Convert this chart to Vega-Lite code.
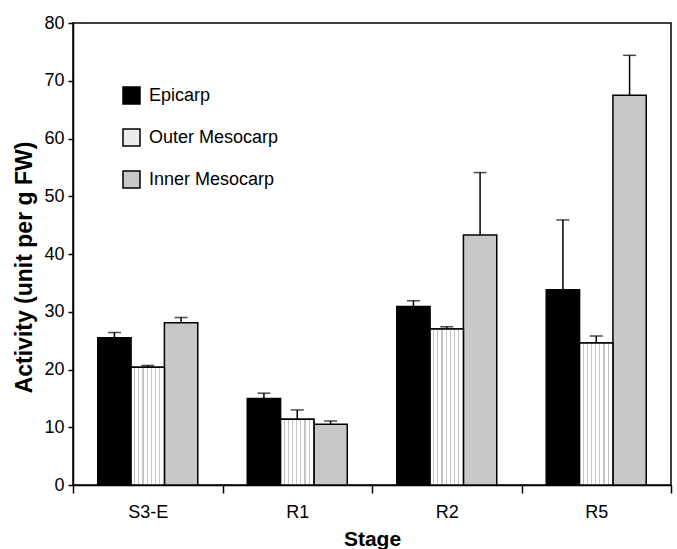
{
  "$schema": "https://vega.github.io/schema/vega-lite/v6.json",
  "width": 598,
  "height": 462,
  "autosize": {"type": "none"},
  "padding": {"left": 73, "top": 23, "right": 6, "bottom": 64},
  "background": "white",
  "config": {
    "view": {"stroke": "black", "strokeWidth": 1.5},
    "font": "Liberation Sans",
    "axis": {
      "domainColor": "black",
      "domainWidth": 1.5,
      "tickColor": "black",
      "tickWidth": 1.5,
      "labelColor": "black",
      "labelFont": "Liberation Sans",
      "labelFontSize": 18,
      "titleColor": "black",
      "titleFont": "Liberation Sans",
      "grid": false
    }
  },
  "data": {
    "values": [
      {"stage": "S3-E", "tissue": "Epicarp", "mean": 25.5, "upper": 26.4},
      {"stage": "S3-E", "tissue": "Outer Mesocarp", "mean": 20.4, "upper": 20.7},
      {"stage": "S3-E", "tissue": "Inner Mesocarp", "mean": 28.1, "upper": 29.0},
      {"stage": "R1", "tissue": "Epicarp", "mean": 15.0, "upper": 15.9},
      {"stage": "R1", "tissue": "Outer Mesocarp", "mean": 11.4, "upper": 13.0},
      {"stage": "R1", "tissue": "Inner Mesocarp", "mean": 10.5, "upper": 11.1},
      {"stage": "R2", "tissue": "Epicarp", "mean": 30.9, "upper": 31.9},
      {"stage": "R2", "tissue": "Outer Mesocarp", "mean": 27.0, "upper": 27.4},
      {"stage": "R2", "tissue": "Inner Mesocarp", "mean": 43.3, "upper": 54.1},
      {"stage": "R5", "tissue": "Epicarp", "mean": 33.8, "upper": 45.9},
      {"stage": "R5", "tissue": "Outer Mesocarp", "mean": 24.6, "upper": 25.8},
      {"stage": "R5", "tissue": "Inner Mesocarp", "mean": 67.5, "upper": 74.4}
    ]
  },
  "encoding": {
    "x": {
      "field": "stage",
      "type": "nominal",
      "sort": ["S3-E", "R1", "R2", "R5"],
      "scale": {"paddingInner": 0, "paddingOuter": 0},
      "axis": {
        "title": "Stage",
        "titleFontSize": 21,
        "titleFontWeight": "bold",
        "titleX": 299,
        "titleY": 60,
        "titleBaseline": "alphabetic",
        "titleAlign": "center",
        "tickSize": 8,
        "tickBand": "extent",
        "labelPadding": 10,
        "labelAngle": 0,
        "labelBaseline": "top"
      }
    },
    "xOffset": {
      "field": "tissue",
      "type": "nominal",
      "sort": ["Epicarp", "Outer Mesocarp", "Inner Mesocarp"],
      "scale": {"paddingInner": 0, "paddingOuter": 0.7425}
    }
  },
  "layer": [
    {
      "mark": {"type": "bar", "stroke": "black", "strokeWidth": 1.5},
      "encoding": {
        "y": {
          "field": "mean",
          "type": "quantitative",
          "scale": {"domain": [0, 80], "nice": false},
          "axis": {
            "title": "Activity (unit per g FW)",
            "titleFontSize": 23,
            "titleFontWeight": "bold",
            "titleX": -42,
            "titleY": 244,
            "titleBaseline": "alphabetic",
            "titleAlign": "center",
            "values": [0, 10, 20, 30, 40, 50, 60, 70, 80],
            "tickSize": 5,
            "labelPadding": 4,
            "labelFlush": false,
            "labelOverlap": false
          }
        },
        "fill": {
          "field": "tissue",
          "type": "nominal",
          "sort": ["Epicarp", "Outer Mesocarp", "Inner Mesocarp"],
          "scale": {
            "domain": ["Epicarp", "Outer Mesocarp", "Inner Mesocarp"],
            "range": ["#000000", "#ececec", "#c8c8c9"]
          },
          "legend": {
            "title": null,
            "orient": "none",
            "legendX": 49,
            "legendY": 63,
            "padding": 0,
            "symbolType": "square",
            "symbolSize": 289,
            "symbolStrokeColor": "black",
            "symbolStrokeWidth": 1.5,
            "symbolOpacity": 1,
            "labelFont": "Liberation Sans",
            "labelFontSize": 18,
            "labelColor": "black",
            "labelOffset": 8,
            "rowPadding": 19
          }
        }
      }
    },
    {
      "transform": [{"filter": "datum.tissue === 'Outer Mesocarp'"}],
      "mark": {
        "type": "bar",
        "stroke": "black",
        "strokeWidth": 1.5,
        "fill": {
          "gradient": "linear",
          "x1": 0, "x2": 1, "y1": 0, "y2": 0,
          "stops": [
            {"offset": 0, "color": "#ffffff"},
            {"offset": 0.09, "color": "#ffffff"},
            {"offset": 0.09, "color": "#c4c4c4"},
            {"offset": 0.125, "color": "#c4c4c4"},
            {"offset": 0.125, "color": "#ffffff"},
            {"offset": 0.215, "color": "#ffffff"},
            {"offset": 0.215, "color": "#c4c4c4"},
            {"offset": 0.25, "color": "#c4c4c4"},
            {"offset": 0.25, "color": "#ffffff"},
            {"offset": 0.34, "color": "#ffffff"},
            {"offset": 0.34, "color": "#c4c4c4"},
            {"offset": 0.375, "color": "#c4c4c4"},
            {"offset": 0.375, "color": "#ffffff"},
            {"offset": 0.465, "color": "#ffffff"},
            {"offset": 0.465, "color": "#c4c4c4"},
            {"offset": 0.5, "color": "#c4c4c4"},
            {"offset": 0.5, "color": "#ffffff"},
            {"offset": 0.59, "color": "#ffffff"},
            {"offset": 0.59, "color": "#c4c4c4"},
            {"offset": 0.625, "color": "#c4c4c4"},
            {"offset": 0.625, "color": "#ffffff"},
            {"offset": 0.715, "color": "#ffffff"},
            {"offset": 0.715, "color": "#c4c4c4"},
            {"offset": 0.75, "color": "#c4c4c4"},
            {"offset": 0.75, "color": "#ffffff"},
            {"offset": 0.84, "color": "#ffffff"},
            {"offset": 0.84, "color": "#c4c4c4"},
            {"offset": 0.875, "color": "#c4c4c4"},
            {"offset": 0.875, "color": "#ffffff"},
            {"offset": 1, "color": "#ffffff"}
          ]
        }
      },
      "encoding": {
        "y": {"field": "mean", "type": "quantitative"}
      }
    },
    {
      "mark": {"type": "rule", "color": "black", "strokeWidth": 1.5},
      "encoding": {
        "y": {"field": "mean", "type": "quantitative"},
        "y2": {"field": "upper"}
      }
    },
    {
      "mark": {"type": "tick", "color": "black", "thickness": 1.5, "size": 13},
      "encoding": {
        "y": {"field": "upper", "type": "quantitative"}
      }
    }
  ]
}
